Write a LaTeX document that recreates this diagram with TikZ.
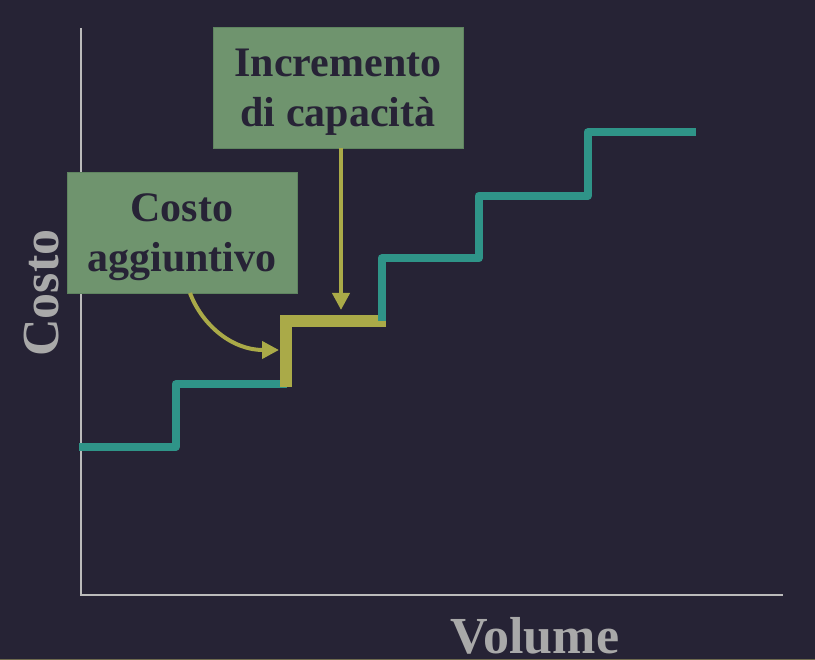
\documentclass[tikz,border=0pt]{standalone}
\usepackage{fontspec}
\setmainfont{Liberation Serif}
\usetikzlibrary{arrows.meta}
\definecolor{bg}{HTML}{262335}
\definecolor{teal2}{HTML}{2F9488}
\definecolor{olivey}{HTML}{AAAA48}
\definecolor{boxg}{HTML}{6F946E}
\definecolor{boxb}{HTML}{5F8460}
\definecolor{axisg}{HTML}{BBBBBB}
\definecolor{lblg}{HTML}{A9A9A9}
\definecolor{txtd}{HTML}{272336}
\definecolor{botl}{HTML}{6E6A4E}
\begin{document}
\begin{tikzpicture}[x=1pt,y=-1pt,
  axisline/.style={draw=axisg,line width=2pt},
  stair/.style={draw=teal2,line width=8pt,line join=round,line cap=butt},
  hilite/.style={draw=olivey,line width=12pt,line join=miter,line cap=butt},
  callout/.style={draw=boxb,line width=0.8pt,fill=boxg,inner sep=0pt},
  boxtext/.style={font=\fontsize{42}{50}\selectfont\bfseries,text=txtd,anchor=base,inner sep=0pt},
  axislabel/.style={font=\fontsize{52}{60}\selectfont\bfseries,text=lblg,anchor=base,inner sep=0pt},
  pointer/.style={draw=olivey,line width=4pt,-{Triangle[width=17pt,length=17pt]}}
]
\fill[bg] (0,0) rectangle (815,660);
\useasboundingbox (0,0) rectangle (815,660);
\draw[botl,line width=1pt] (0,659.5) -- (815,659.5);
% axes
\coordinate (ytop) at (81,28);
\coordinate (orig) at (81,595);
\coordinate (xend) at (783,595);
\draw[axisline] (ytop) -- (orig) -- (xend);
% staircase
\coordinate (s0) at (79,447);
\coordinate (s1) at (175.5,447);
\coordinate (s2) at (175.5,384.5);
\coordinate (s3) at (287,384.5);
\draw[stair] (s0) -- (s1) -- (s2) -- (s3);
\coordinate (h0) at (286,387);
\coordinate (h1) at (286,321);
\coordinate (h2) at (386,321);
\draw[hilite] (h0) -- (h1) -- (h2);
\coordinate (t0) at (381.5,321);
\coordinate (t1) at (381.5,258.5);
\coordinate (t2) at (478.5,258.5);
\coordinate (t3) at (478.5,196);
\coordinate (t4) at (587.5,196);
\coordinate (t5) at (587.5,132.5);
\coordinate (t6) at (696,132.5);
\draw[stair] (t0) -- (t1) -- (t2) -- (t3) -- (t4) -- (t5) -- (t6);
% callout boxes
\node[callout,minimum width=230pt,minimum height=121pt] (cbox) at (182,232.5) {};
\node[boxtext] (c1) at (182,222) {Costo};
\node[boxtext] (c2) at (182,272) {aggiuntivo};
\node[callout,minimum width=250pt,minimum height=121pt] (ibox) at (338,87.5) {};
\node[boxtext] (i1) at (338,77) {Incremento};
\node[boxtext] (i2) at (338,127) {di capacità};
% pointers
\coordinate (itip) at (341,310);
\draw[pointer] (ibox.south -| itip) -- (itip);
\coordinate (cstart) at (190,293);
\coordinate (ctip) at (279,350);
\draw[pointer] (cstart) .. controls (202,325) and (232,350) .. (ctip);
% axis labels
\node[axislabel,rotate=90] (ylab) at (58,293) {Costo};
\node[axislabel] (xlab) at (535,653) {Volume};
\end{tikzpicture}
\end{document}
